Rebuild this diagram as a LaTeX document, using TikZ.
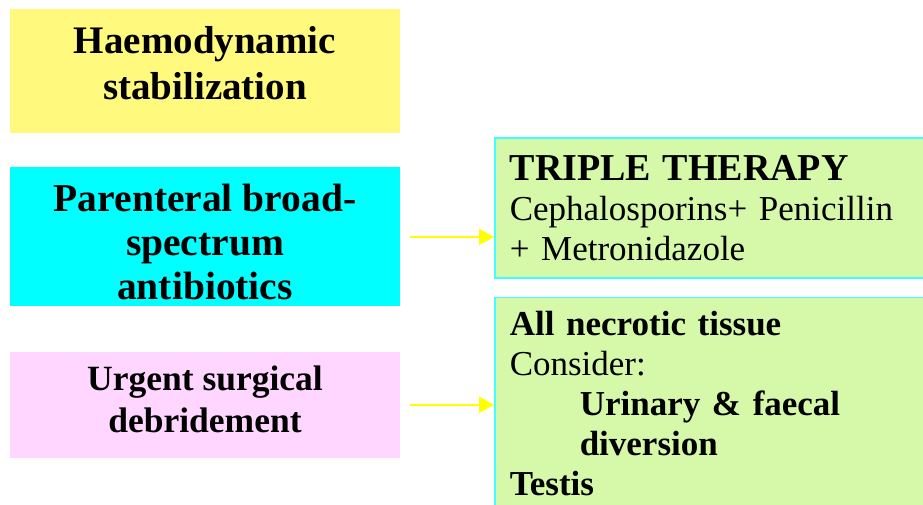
\documentclass[tikz,border=0pt]{standalone}
\usepackage{fontspec}
\setmainfont{Liberation Serif}
\usepackage{xcolor}
\usepackage{tikz}
\usetikzlibrary{arrows.meta, positioning}

\definecolor{stabyellow}{RGB}{255,250,125}
\definecolor{abxcyan}{RGB}{0,255,255}
\definecolor{surgpink}{RGB}{255,214,255}
\definecolor{boxgreen}{RGB}{213,249,168}
\definecolor{boxedge}{RGB}{64,255,255}
\definecolor{arrowyellow}{RGB}{255,255,0}

\begin{document}
\begin{tikzpicture}[
    x=1pt, y=-1pt,
    leftbox/.style={rectangle, inner sep=0pt, minimum width=390pt, fill=#1},
    lefttext/.style 2 args={align=center, inner sep=0pt, font=\bfseries\fontsize{#1}{#2}\selectfont},
    rightbox/.style={rectangle, draw=boxedge, line width=1.5pt, fill=boxgreen, anchor=north west, text width=420pt, inner xsep=15pt, align=left, font=\fontsize{35}{40}\selectfont},
    arrow/.style={-{Triangle[length=15pt, width=16pt]}, line width=2pt, color=arrowyellow, shorten <=10pt},
]
\useasboundingbox (0,0) rectangle (923,504);
\clip (0,0) rectangle (923,504);

% Left column
\node[leftbox=stabyellow, minimum height=124pt] (stab) at (205,71) {};
\node[leftbox=abxcyan, minimum height=139pt, below=34pt of stab] (abx) {};
\node[leftbox=surgpink, minimum height=106pt, below=45pt of abx] (surg) {};
\node[lefttext={39}{46}, yshift=8pt] (stabtxt) at (stab) {Haemodynamic\\stabilization};
\node[lefttext={39.5}{44}, yshift=-5pt] (abxtxt) at (abx) {Parenteral broad-\\spectrum\\antibiotics};
\node[lefttext={35.5}{42}, yshift=5pt] (surgtxt) at (surg) {Urgent surgical\\debridement};

% Right column
\node[rightbox, minimum height=140pt] (triple) at (494,137) {{\bfseries\fontsize{38}{41}\selectfont TRIPLE THERAPY}\\Cephalosporins+ Penicillin\\+ Metronidazole};
\node[rightbox, minimum height=212pt] (debr) at ([yshift=-18pt]triple.south west) {\textbf{All necrotic tissue}\\Consider:\\\hspace*{70pt}\textbf{Urinary \& faecal}\\\hspace*{70pt}\textbf{diversion}\\\textbf{Testis}};

\draw[arrow] (abx.east) -- (abx.east -| triple.west);
\draw[arrow] (surg.east) -- (surg.east -| debr.west);

\end{tikzpicture}
\end{document}
